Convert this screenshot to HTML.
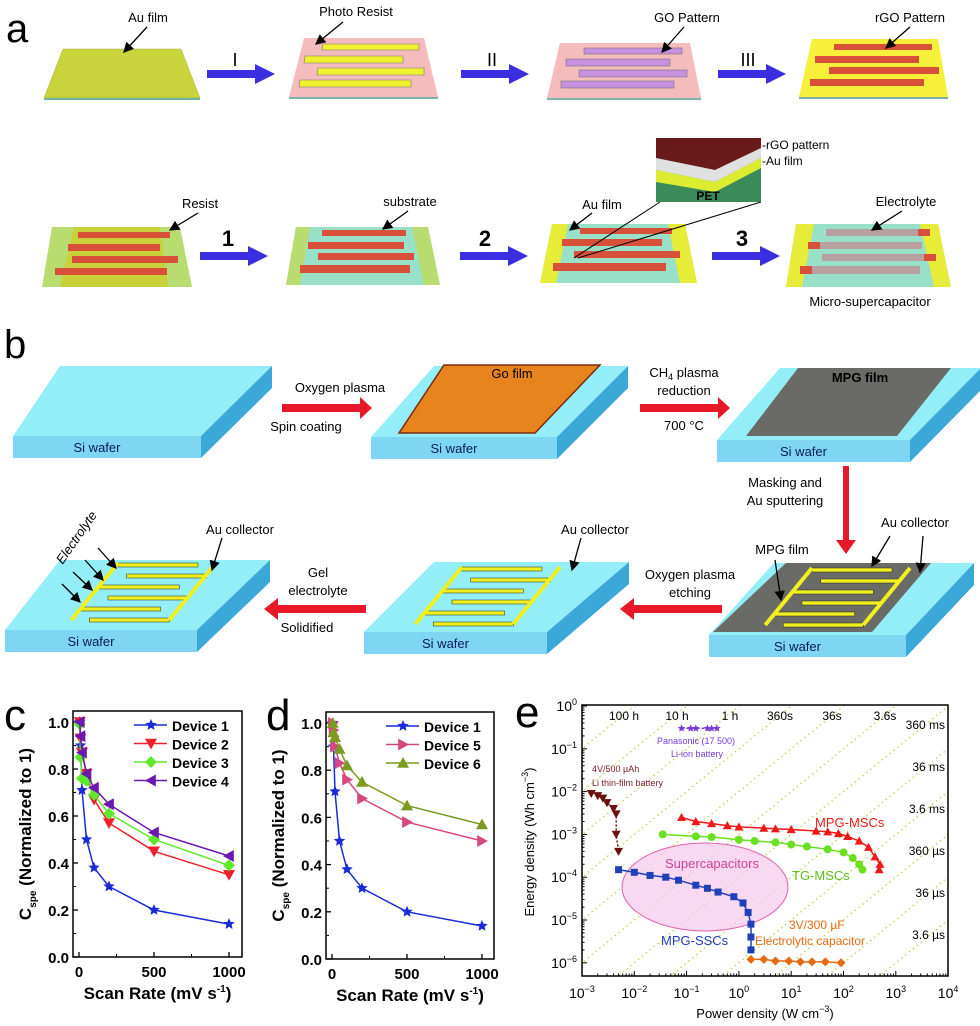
<!DOCTYPE html>
<html><head><meta charset="utf-8">
<style>
html,body{margin:0;padding:0;background:#fff;width:980px;height:1026px;overflow:hidden}
svg{display:block}
text{font-family:"Liberation Sans",Arial,sans-serif}
</style></head>
<body>
<svg id="fig" width="980" height="1026" viewBox="0 0 980 1026" xmlns="http://www.w3.org/2000/svg">
<defs>
<marker id="ah" markerWidth="8" markerHeight="8" refX="7" refY="4" orient="auto"><path d="M0,0 L8,4 L0,8 z" fill="#000"/></marker>
</defs>

<!-- ============ PANEL A ============ -->
<g>
<text x="6" y="42" font-size="40">a</text>
<g>
<polygon points="63,49 181,49 200,98 44,98" fill="#c9d43c" stroke="#a8b030" stroke-width="0.5"/>
<rect x="44" y="98" width="156" height="2" fill="#6cb0a8"/>
</g>
<text x="148" y="22" font-size="13" text-anchor="middle">Au film</text>
<line x1="147" y1="27" x2="124" y2="52" stroke="#000" stroke-width="1.3" marker-end="url(#ah)"/>

<g>
<polygon points="304,38 424,38 438,97 289,97" fill="#f4bcbc"/>
<rect x="289" y="97" width="149" height="2" fill="#7cb0a8"/>
<polygon points="323,44 419,44 419,50 322,50" fill="#f0f030" stroke="#777" stroke-width="0.6"/>
<polygon points="305,56 403,56 403,63 304,63" fill="#f0f030" stroke="#777" stroke-width="0.6"/>
<polygon points="318,68 424,68 424,75 317,75" fill="#f0f030" stroke="#777" stroke-width="0.6"/>
<polygon points="300,80 411,80 411,87 299,87" fill="#f0f030" stroke="#777" stroke-width="0.6"/>
</g>
<text x="356" y="16" font-size="13" text-anchor="middle">Photo Resist</text>
<line x1="343" y1="22" x2="316" y2="44" stroke="#000" stroke-width="1.3" marker-end="url(#ah)"/>

<g>
<polygon points="560,43 690,43 701,98 547,98" fill="#f4bcbc"/>
<rect x="547" y="98" width="154" height="2" fill="#7cb0a8"/>
<rect x="584" y="48" width="98" height="6" fill="#c890e0" stroke="#777" stroke-width="0.6"/>
<rect x="566" y="59" width="104" height="7" fill="#c890e0" stroke="#777" stroke-width="0.6"/>
<rect x="579" y="70" width="108" height="7" fill="#c890e0" stroke="#777" stroke-width="0.6"/>
<rect x="561" y="81" width="113" height="7" fill="#c890e0" stroke="#777" stroke-width="0.6"/>
</g>
<text x="687" y="22" font-size="13" text-anchor="middle">GO Pattern</text>
<line x1="684" y1="27" x2="662" y2="52" stroke="#000" stroke-width="1.3" marker-end="url(#ah)"/>

<g>
<polygon points="812,39 938,39 948,97 799,97" fill="#f6f03a"/>
<rect x="799" y="97" width="149" height="2" fill="#7cb0a8"/>
<rect x="834" y="44" width="98" height="6" fill="#d8503a"/>
<rect x="815" y="56" width="104" height="7" fill="#d8503a"/>
<rect x="829" y="67" width="110" height="7" fill="#d8503a"/>
<rect x="810" y="79" width="114" height="7" fill="#d8503a"/>
</g>
<text x="910" y="22" font-size="13" text-anchor="middle">rGO Pattern</text>
<line x1="910" y1="27" x2="886" y2="48" stroke="#000" stroke-width="1.3" marker-end="url(#ah)"/>

<g fill="#3a2ee0">
<polygon points="207,70 255,70 255,64 275,74 255,84 255,78 207,78"/>
<polygon points="461,70 509,70 509,64 529,74 509,84 509,78 461,78"/>
<polygon points="718,70 766,70 766,64 786,74 766,84 766,78 718,78"/>
</g>
<text x="235" y="66" font-size="18" font-family="Liberation Serif" text-anchor="middle">I</text>
<text x="492" y="66" font-size="18" font-family="Liberation Serif" text-anchor="middle">II</text>
<text x="748" y="66" font-size="18" font-family="Liberation Serif" text-anchor="middle">III</text>

<g>
<polygon points="52,227 180,227 192,287 42,287" fill="#b8dc70"/>
<polygon points="74,227 160,227 168,287 60,287" fill="#c8d03a"/>
<rect x="78" y="232" width="92" height="6" fill="#d8503a"/>
<rect x="68" y="244" width="92" height="7" fill="#d8503a"/>
<rect x="72" y="256" width="106" height="7" fill="#d8503a"/>
<rect x="55" y="268" width="112" height="7" fill="#d8503a"/>
</g>
<text x="200" y="208" font-size="13" text-anchor="middle">Resist</text>
<line x1="198" y1="213" x2="170" y2="230" stroke="#000" stroke-width="1.3" marker-end="url(#ah)"/>

<g>
<polygon points="296,227 428,227 440,285 286,285" fill="#98e0c8"/>
<polygon points="296,227 310,227 300,285 286,285" fill="#b8dc70"/>
<polygon points="412,227 428,227 440,285 424,285" fill="#b8dc70"/>
<rect x="322" y="230" width="84" height="6" fill="#d8503a"/>
<rect x="308" y="242" width="96" height="7" fill="#d8503a"/>
<rect x="318" y="253" width="96" height="7" fill="#d8503a"/>
<rect x="300" y="265" width="110" height="8" fill="#d8503a"/>
</g>
<text x="410" y="206" font-size="13" text-anchor="middle">substrate</text>
<line x1="408" y1="211" x2="383" y2="229" stroke="#000" stroke-width="1.3" marker-end="url(#ah)"/>

<g>
<polygon points="552,224 685,224 697,283 540,283" fill="#98e0c8"/>
<polygon points="552,224 568,224 556,283 540,283" fill="#e6ec38"/>
<polygon points="668,224 685,224 697,283 680,283" fill="#e6ec38"/>
<rect x="580" y="228" width="92" height="6" fill="#d8503a"/>
<rect x="562" y="239" width="100" height="7" fill="#d8503a"/>
<rect x="574" y="251" width="106" height="7" fill="#d8503a"/>
<rect x="553" y="263" width="113" height="8" fill="#d8503a"/>
<line x1="574" y1="258" x2="660" y2="202" stroke="#000"/>
<line x1="578" y1="258" x2="761" y2="202" stroke="#000"/>
</g>
<g>
<rect x="656" y="138" width="105" height="64" fill="#3a8a5a"/>
<polygon points="656,138 761,138 761,148 715,170 656,158" fill="#6a1a1a"/>
<polygon points="656,158 715,170 761,148 761,158 715,182 656,170" fill="#e0e0e0"/>
<polygon points="656,170 715,182 761,158 761,168 715,192 656,182" fill="#dcec30"/>
<text x="708" y="200" font-size="12" font-weight="bold" font-family="Liberation Serif" text-anchor="middle">PET</text>
</g>
<text x="762" y="149" font-size="12" font-family="Liberation Serif">-rGO pattern</text>
<text x="762" y="165" font-size="12" font-family="Liberation Serif">-Au film</text>
<text x="602" y="209" font-size="13" text-anchor="middle">Au film</text>
<line x1="592" y1="213" x2="570" y2="230" stroke="#000" stroke-width="1.3" marker-end="url(#ah)"/>

<g>
<polygon points="796,224 938,224 951,287 786,287" fill="#98e0c8"/>
<polygon points="796,224 814,224 802,287 786,287" fill="#e6ec38"/>
<polygon points="920,224 938,224 951,287 934,287" fill="#e6ec38"/>
<rect x="826" y="229" width="104" height="7" fill="#b8a0a0"/>
<rect x="808" y="242" width="114" height="7" fill="#b8a0a0"/>
<rect x="822" y="254" width="114" height="7" fill="#b8a0a0"/>
<rect x="800" y="266" width="120" height="8" fill="#b8a0a0"/>
<rect x="918" y="229" width="12" height="7" fill="#d8503a"/>
<rect x="808" y="242" width="12" height="7" fill="#d8503a"/>
<rect x="924" y="254" width="12" height="7" fill="#d8503a"/>
<rect x="800" y="266" width="12" height="8" fill="#d8503a"/>
</g>
<text x="906" y="206" font-size="13" text-anchor="middle">Electrolyte</text>
<line x1="902" y1="211" x2="872" y2="230" stroke="#000" stroke-width="1.3" marker-end="url(#ah)"/>
<text x="870" y="306" font-size="13" text-anchor="middle">Micro-supercapacitor</text>

<g fill="#3a2ee0">
<polygon points="200,252 248,252 248,246 268,256 248,266 248,260 200,260"/>
<polygon points="460,252 508,252 508,246 528,256 508,266 508,260 460,260"/>
<polygon points="712,252 760,252 760,246 780,256 760,266 760,260 712,260"/>
</g>
<text x="228" y="246" font-size="22" font-weight="bold" text-anchor="middle">1</text>
<text x="485" y="246" font-size="22" font-weight="bold" text-anchor="middle">2</text>
<text x="742" y="246" font-size="22" font-weight="bold" text-anchor="middle">3</text>
</g>

<!-- ============ PANEL B ============ -->
<g>
<text x="4" y="358" font-size="40">b</text>

<g id="slabs"></g>

<g>
<polygon points="444,365 600,365 535,433 399,433" fill="#e8841e" stroke="#7a2a10" stroke-width="1.5"/>
<text x="512" y="378" font-size="13" text-anchor="middle">Go film</text>
</g>
<g>
<polygon points="798,368 951,368 897,436 746,436" fill="#6a6a66"/>
<text x="860" y="382" font-size="13" font-weight="bold" text-anchor="middle">MPG film</text>
</g>
<g>
<polygon points="786,563 931,563 872,632 713,632" fill="#6a6a66"/>
</g>
<g id="combs"></g>

<g fill="#e81828">
<polygon points="282,404 360,404 360,397 372,408 360,419 360,412 282,412"/>
<polygon points="640,404 718,404 718,397 730,408 718,419 718,412 640,412"/>
<polygon points="843,466 849,466 849,540 856,540 846,554 836,540 843,540"/>
<polygon points="722,605 634,605 634,598 620,609 634,620 634,613 722,613"/>
<polygon points="366,605 278,605 278,598 264,609 278,620 278,613 366,613"/>
</g>
<g font-size="13" text-anchor="middle">
<text x="340" y="392">Oxygen plasma</text>
<text x="306" y="431">Spin coating</text>
<text x="684" y="377">CH<tspan font-size="9" dy="3">4</tspan><tspan dy="-3"> plasma</tspan></text>
<text x="684" y="395">reduction</text>
<text x="684" y="430">700 °C</text>
<text x="785" y="487">Masking and</text>
<text x="785" y="505">Au sputtering</text>
<text x="690" y="579">Oxygen plasma</text>
<text x="690" y="597">etching</text>
<text x="318" y="577">Gel</text>
<text x="318" y="595">electrolyte</text>
<text x="307" y="632">Solidified</text>
<text x="915" y="527">Au collector</text>
<text x="782" y="554">MPG film</text>
<text x="595" y="534">Au collector</text>
<text x="240" y="534">Au collector</text>
<text x="80" y="540" transform="rotate(-55 80 540)" font-style="italic">Electrolyte</text>
</g>
<g stroke="#000" stroke-width="1.3">
<line x1="890" y1="536" x2="872" y2="566" marker-end="url(#ah)"/>
<line x1="923" y1="536" x2="920" y2="572" marker-end="url(#ah)"/>
<line x1="775" y1="560" x2="781" y2="600" marker-end="url(#ah)"/>
<line x1="581" y1="538" x2="572" y2="570" marker-end="url(#ah)"/>
<line x1="222" y1="538" x2="212" y2="570" marker-end="url(#ah)"/>
<line x1="98" y1="548" x2="116" y2="568" marker-end="url(#ah)"/>
<line x1="85" y1="560" x2="103" y2="580" marker-end="url(#ah)"/>
<line x1="73" y1="572" x2="92" y2="590" marker-end="url(#ah)"/>
<line x1="62" y1="584" x2="80" y2="602" marker-end="url(#ah)"/>
</g>
</g>

<g id="chartC"></g>
<g id="chartD"></g>
<g id="chartE"></g>
</svg>

<script>
const NS="http://www.w3.org/2000/svg";
function mk(parent,tag,attrs,txt){const e=document.createElementNS(NS,tag);for(const k in attrs)e.setAttribute(k,attrs[k]);if(txt!==undefined)e.textContent=txt;parent.appendChild(e);return e;}

const slabs=[
 {tl:60,tr:272,bl:13,br:201,ty:366,by:436,label:"Si wafer"},
 {tl:434,tr:628,bl:371,br:557,ty:366,by:437,label:"Si wafer"},
 {tl:780,tr:981,bl:717,br:910,ty:368,by:440,label:"Si wafer"},
 {tl:60,tr:270,bl:5,br:197,ty:560,by:630,label:"Si wafer"},
 {tl:434,tr:629,bl:364,br:547,ty:562,by:632,label:"Si wafer"},
 {tl:774,tr:974,bl:709,br:906,ty:563,by:635,label:"Si wafer"}
];
const sg=document.getElementById('slabs');
slabs.forEach((s,i)=>{
 const g=mk(sg,'g',{});
 
 
 const h=22;
 mk(g,'polygon',{points:`${s.tl},${s.ty} ${s.tr},${s.ty} ${s.br},${s.by} ${s.bl},${s.by}`,fill:'#94eef8'});
 mk(g,'polygon',{points:`${s.tr},${s.ty} ${s.tr},${s.ty+h} ${s.br},${s.by+h} ${s.br},${s.by}`,fill:'#3ca8d8'});
 mk(g,'rect',{x:s.bl,y:s.by,width:s.br-s.bl,height:h,fill:'#7ed6f2'});
 mk(g,'text',{x:(s.bl+s.br)/2-10,y:s.by+16,'font-size':13,'text-anchor':'middle',fill:'#0a1a5a'},s.label);
});
const cg=document.getElementById('combs');
function comb(ox,oy,fill){
 const g=mk(cg,'g',{});
 
 
 const sk=0.85;
 for(let k=0;k<6;k++){
  const y=oy+k*11;
  const x=ox-(k*11)*sk;
  mk(g,'rect',{x:x+(k%2?18:0),y:y,width:80,height:4,fill:fill,stroke:'#222','stroke-width':0.5});
 }
 mk(g,'line',{x1:ox,y1:oy,x2:ox-55*sk,y2:oy+57,stroke:fill,'stroke-width':4});
 mk(g,'line',{x1:ox+98,y1:oy,x2:ox+98-55*sk,y2:oy+57,stroke:fill,'stroke-width':4});
}
comb(812,568,'#f0f020');
comb(462,567,'#f0f020');
comb(118,563,'#f0f020');

function axisBox(g,x0,y0,x1,y1){mk(g,'rect',{x:x0,y:y0,width:x1-x0,height:y1-y0,fill:'none',stroke:'#000','stroke-width':1.5});}
function marker(g,type,x,y,color,s){
 let el;
 if(type==='star'){let p=[];for(let i=0;i<10;i++){const r=i%2?s*0.45:s;const a=-Math.PI/2+i*Math.PI/5;p.push((x+r*Math.cos(a)).toFixed(1)+','+(y+r*Math.sin(a)).toFixed(1));}el=mk(g,'polygon',{points:p.join(' '),fill:color});}
 else if(type==='down'){el=mk(g,'polygon',{points:`${x-s},${y-s*0.8} ${x+s},${y-s*0.8} ${x},${y+s}`,fill:color});}
 else if(type==='up'){el=mk(g,'polygon',{points:`${x-s},${y+s*0.8} ${x+s},${y+s*0.8} ${x},${y-s}`,fill:color});}
 else if(type==='diamond'){el=mk(g,'polygon',{points:`${x-s},${y} ${x},${y-s} ${x+s},${y} ${x},${y+s}`,fill:color});}
 else if(type==='left'){el=mk(g,'polygon',{points:`${x+s*0.8},${y-s} ${x+s*0.8},${y+s} ${x-s},${y}`,fill:color});}
 else if(type==='right'){el=mk(g,'polygon',{points:`${x-s*0.8},${y-s} ${x-s*0.8},${y+s} ${x+s},${y}`,fill:color});}
 else if(type==='square'){el=mk(g,'rect',{x:x-s,y:y-s,width:2*s,height:2*s,fill:color});}
 else {el=mk(g,'circle',{cx:x,cy:y,r:s,fill:color});}
 return el;
}

const scanRates=[5,10,20,50,100,200,500,1000];
const device1=[1.0,0.9,0.71,0.5,0.38,0.3,0.2,0.14];
const device2=[1.0,0.93,0.87,0.78,0.67,0.57,0.45,0.35];
const device3=[0.99,0.85,0.76,0.75,0.69,0.61,0.5,0.39];
const device4=[1.0,0.94,0.87,0.78,0.72,0.65,0.53,0.43];
const device5=[1.0,0.97,0.9,0.83,0.76,0.68,0.58,0.5];
const device6=[1.0,0.96,0.94,0.89,0.82,0.75,0.65,0.57];
const yTicksCD=[0,0.2,0.4,0.6,0.8,1.0];
const xTicksCD=[0,500,1000];

function scanChart(gid,box,x0px,x1000px,y0px,y1px,series,letter,letterPos){
 const g=document.getElementById(gid);
 const X=v=>x0px+(x1000px-x0px)*v/1000;
 const Y=v=>y0px+(y1px-y0px)*v;
 axisBox(g,box[0],box[1],box[2],box[3]);
 yTicksCD.forEach(t=>{
  const y=Y(t);
  mk(g,'line',{x1:box[0],y1:y,x2:box[0]+5,y2:y,stroke:'#000','stroke-width':1.3});
  const tl=mk(g,'text',{x:box[0]-4,y:y+6,'font-size':15,'font-weight':'bold','text-anchor':'end'},t.toFixed(1));
  
  
  if(t<1){const ym=Y(t+0.1);mk(g,'line',{x1:box[0],y1:ym,x2:box[0]+3,y2:ym,stroke:'#000'});}
 });
 xTicksCD.forEach(t=>{
  const x=X(t);
  mk(g,'line',{x1:x,y1:box[3],x2:x,y2:box[3]-5,stroke:'#000','stroke-width':1.3});
  const tl=mk(g,'text',{x:x,y:box[3]+20,'font-size':15,'font-weight':'bold','text-anchor':'middle'},String(t));
  
  
  if(t<1000){const xm=X(t+250);mk(g,'line',{x1:xm,y1:box[3],x2:xm,y2:box[3]-3,stroke:'#000'});}
 });
 series.forEach((s,si)=>{
  const sg=mk(g,'g',{});
  
  
  const pts=scanRates.map((r,i)=>X(r).toFixed(1)+','+Y(s.vals[i]).toFixed(1)).join(' ');
  mk(sg,'polyline',{points:pts,fill:'none',stroke:s.color,'stroke-width':1.5});
  scanRates.forEach((r,i)=>{const m=marker(sg,s.m,X(r),Y(s.vals[i]),s.color,6);
   
   });
  const ly=box[1]+14+si*18.5, lx=box[2]-108;
  const lg=mk(g,'g',{});
  
  
  mk(lg,'line',{x1:lx,y1:ly,x2:lx+33,y2:ly,stroke:s.color,'stroke-width':1.5});
  marker(lg,s.m,lx+17,ly,s.color,6);
  mk(lg,'text',{x:lx+38,y:ly+6,'font-size':14,'font-weight':'bold'},s.name);
 });
 const cx=(box[0]+box[2])/2;
 const xt=mk(g,'text',{x:cx,y:box[3]+42,'font-size':17,'font-weight':'bold','text-anchor':'middle'});
 
 
 xt.innerHTML='Scan Rate (mV s<tspan font-size="10" dy="-7">-1</tspan><tspan dy="7">)</tspan>';
 const cy=(box[1]+box[3])/2, tx=box[0]-42;
 const yt=mk(g,'text',{x:tx,y:cy,'font-size':17,'font-weight':'bold','text-anchor':'middle',transform:`rotate(-90 ${tx} ${cy})`});
 
 
 yt.innerHTML='C<tspan font-size="10" dy="5">spe</tspan><tspan dy="-5"> (Normalized to 1)</tspan>';
 const lt=mk(g,'text',{x:letterPos[0],y:letterPos[1],'font-size':44},letter);
 
 
}
scanChart('chartC',[73,711,242,957],79,229,957,722,[
 {name:'Device 1',vals:device1,color:'#1a2ad8',m:'star'},
 {name:'Device 2',vals:device2,color:'#f0202a',m:'down'},
 {name:'Device 3',vals:device3,color:'#5ee82a',m:'diamond'},
 {name:'Device 4',vals:device4,color:'#6a18b0',m:'left'}],'c',[4,730]);
scanChart('chartD',[326,712,494,959],332,482,959,723,[
 {name:'Device 1',vals:device1,color:'#1a2ad8',m:'star'},
 {name:'Device 5',vals:device5,color:'#d84880',m:'right'},
 {name:'Device 6',vals:device6,color:'#7a9a20',m:'up'}],'d',[266,730]);

const mpgMscP=[0.08,0.15,0.3,0.6,1,3,5,10,30,50,80,120,200,300,400,500,480];
const mpgMscE=[2.5e-3,2e-3,1.8e-3,1.6e-3,1.5e-3,1.4e-3,1.35e-3,1.3e-3,1.2e-3,1.15e-3,1.05e-3,9e-4,7e-4,5e-4,3e-4,2e-4,1.5e-4];
const tgMscP=[0.035,0.15,0.3,1,2,5,10,20,50,100,150,200,230];
const tgMscE=[1e-3,9e-4,8.7e-4,7.5e-4,7e-4,6.5e-4,5.8e-4,5.2e-4,4.5e-4,3.8e-4,2.8e-4,2e-4,1.5e-4];
const mpgSscP=[0.005,0.01,0.02,0.04,0.07,0.15,0.25,0.4,0.8,1.2,1.5,1.7,1.7,1.7];
const mpgSscE=[1.5e-4,1.3e-4,1.1e-4,1e-4,8.5e-5,6.5e-5,5.5e-5,4.5e-5,3.5e-5,2.5e-5,1.5e-5,8e-6,4e-6,2e-6];
const elecP=[1.7,3,5,9,15,25,45,90];
const elecE=[1.2e-6,1.2e-6,1.1e-6,1.1e-6,1.05e-6,1.05e-6,1.05e-6,1e-6];
const liFilmP=[0.0015,0.002,0.0025,0.003,0.004,0.0045,0.0045,0.005];
const liFilmE=[9e-3,8e-3,7e-3,5.5e-3,4e-3,3e-3,1e-3,4e-4];
const panaP=[0.08,0.12,0.15,0.25,0.3,0.38];
const panaE=[0.3,0.3,0.3,0.3,0.3,0.3];
const timeLinesH=[100,10,1,0.1,0.01,0.001,1e-4,1e-5,1e-6,1e-7,1e-8,1e-9];
const topTimeLabels=["100 h","10 h","1 h","360s","36s","3.6s"];
const rightTimeLabels=["360 ms","36 ms","3.6 ms","360 µs","36 µs","3.6 µs"];
const xExpE=[-3,-2,-1,0,1,2,3,4];
const yExpE=[0,-1,-2,-3,-4,-5,-6];

(function(){
 const g=document.getElementById('chartE');
 const L=582,R=948,T=705,B=976;
 const X=v=>L+(Math.log10(v)+3)*52.3;
 const Y=v=>706-Math.log10(v)*42.8;
 const clip=mk(document.querySelector('defs'),'clipPath',{id:'ce'});
 mk(clip,'rect',{x:L,y:T,width:R-L,height:B-T});
 const tg=mk(g,'g',{'clip-path':'url(#ce)'});
 timeLinesH.forEach(t=>{
  const p1=1e-4,p2=1e5;
  const ln=mk(tg,'line',{x1:X(p1),y1:Y(p1*t),x2:X(p2),y2:Y(p2*t),stroke:'#b8d040','stroke-width':1.2,'stroke-dasharray':'1.5,3.5'});
  
  
 });
 const el=mk(g,'ellipse',{cx:705,cy:887,rx:83,ry:44,fill:'#f6c8ec','fill-opacity':0.7,stroke:'#e060b0','stroke-width':1});
 
 
 mk(g,'text',{x:712,y:868,'font-size':13,fill:'#d0409a','text-anchor':'middle'},'Supercapacitors');
 axisBox(g,L,T,R,B);
 xExpE.forEach(e=>{
  const x=L+(e+3)*52.3;
  mk(g,'line',{x1:x,y1:B,x2:x,y2:B-5,stroke:'#000'});
  for(let k=2;k<10&&e<4;k++){const xm=x+Math.log10(k)*52.3;mk(g,'line',{x1:xm,y1:B,x2:xm,y2:B-2.5,stroke:'#000'});}
  const t=mk(g,'text',{x:x,y:B+22,'font-size':14,'text-anchor':'middle'});
  
  
  t.innerHTML='10<tspan font-size="9" dy="-6">'+(e<0?'−'+(-e):e)+'</tspan>';
 });
 yExpE.forEach(e=>{
  const y=706-e*42.8;
  mk(g,'line',{x1:L,y1:y,x2:L+5,y2:y,stroke:'#000'});
  for(let k=2;k<10&&e>-6;k++){const ym=y+42.8-Math.log10(k)*42.8;mk(g,'line',{x1:L,y1:ym,x2:L+2.5,y2:ym,stroke:'#000'});}
  const t=mk(g,'text',{x:L-5,y:y+5,'font-size':14,'text-anchor':'end'});
  
  
  t.innerHTML='10<tspan font-size="9" dy="-6">'+(e<0?'−'+(-e):e)+'</tspan>';
 });
 function ser(name,P,E,color,m,s,dash){
  const sg=mk(g,'g',{});
  
  
  mk(sg,'polyline',{points:P.map((p,i)=>X(p).toFixed(1)+','+Y(E[i]).toFixed(1)).join(' '),fill:'none',stroke:color,'stroke-width':1.5,'stroke-dasharray':dash||'none'});
  P.forEach((p,i)=>{const mm=marker(sg,m,X(p),Y(E[i]),color,s);
   
   });
 }
 ser('series-li-thin-film',liFilmP,liFilmE,'#6a1010','down',4.5,'2,2');
 ser('series-panasonic',panaP,panaE,'#7a3ad8','star',4,'3,2');
 ser('series-mpg-mscs',mpgMscP,mpgMscE,'#f01818','up',4.5);
 ser('series-tg-mscs',tgMscP,tgMscE,'#6ae020','circle',4);
 ser('series-mpg-sscs',mpgSscP,mpgSscE,'#2040b8','square',3.5);
 ser('series-electrolytic',elecP,elecE,'#e86a10','diamond',4.5);
 const tops=[624,677,730,780,832,885];
 topTimeLabels.forEach((s,i)=>mk(g,'text',{x:tops[i],y:720,'font-size':12,'text-anchor':'middle'},s));
 rightTimeLabels.forEach((s,i)=>mk(g,'text',{x:945,y:729+i*42,'font-size':12,'text-anchor':'end'},s));
 mk(g,'text',{x:696,y:744,'font-size':9,fill:'#7a3ad8','text-anchor':'middle'},'Panasonic (17 500)');
 mk(g,'text',{x:697,y:757,'font-size':9,fill:'#7a3ad8','text-anchor':'middle'},'Li-ion battery');
 mk(g,'text',{x:592,y:772,'font-size':9,fill:'#7a1a2a'},'4V/500 µAh');
 mk(g,'text',{x:592,y:786,'font-size':9,fill:'#7a1a2a'},'Li thin-film battery');
 mk(g,'text',{x:815,y:827,'font-size':13,fill:'#f01818'},'MPG-MSCs');
 mk(g,'text',{x:792,y:880,'font-size':13,fill:'#5ac018'},'TG-MSCs');
 mk(g,'text',{x:661,y:945,'font-size':13,fill:'#2040b8'},'MPG-SSCs');
 mk(g,'text',{x:789,y:929,'font-size':12,fill:'#e86a10'},'3V/300 µF');
 mk(g,'text',{x:755,y:945,'font-size':12,fill:'#e86a10'},'Electrolytic capacitor');
 const xt=mk(g,'text',{x:765,y:1018,'font-size':13,'text-anchor':'middle'});
 
 
 xt.innerHTML='Power density (W cm<tspan font-size="9" dy="-6">−3</tspan><tspan dy="6">)</tspan>';
 const yt=mk(g,'text',{x:534,y:842,'font-size':13,'text-anchor':'middle',transform:'rotate(-90 534 842)'});
 
 
 yt.innerHTML='Energy density (Wh cm<tspan font-size="9" dy="-6">−3</tspan><tspan dy="6">)</tspan>';
 const lt=mk(g,'text',{x:515,y:727,'font-size':44},'e');
 
 
})();
</script>
</body></html>
